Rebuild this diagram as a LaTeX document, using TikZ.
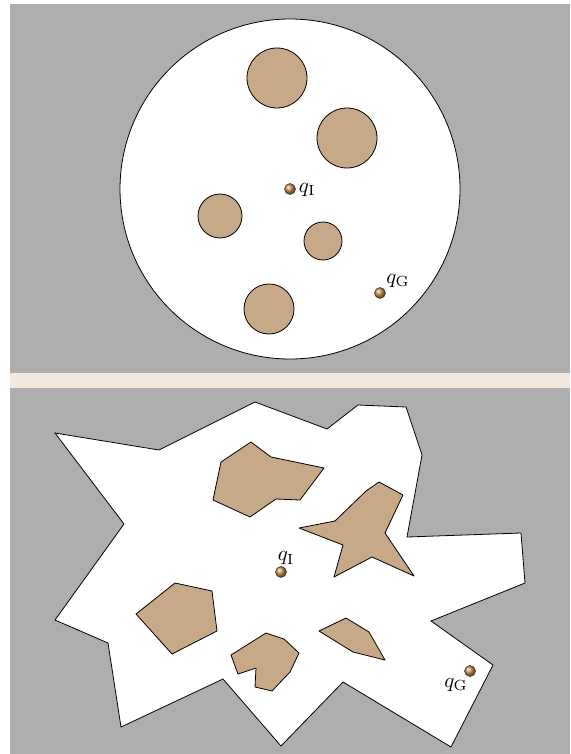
\documentclass[tikz,border=0pt]{standalone}
\usepackage{graphicx}
\usetikzlibrary{shapes.geometric}
\definecolor{bggray}{HTML}{AEAEAE}
\definecolor{band}{HTML}{F3E9DF}
\definecolor{obst}{HTML}{C8A987}
\definecolor{ballc}{RGB}{200,145,75}
\newcommand{\biglbl}[1]{\scalebox{2.1}{$#1$}}
\tikzset{
  obstacle/.style={fill=obst,draw=black,line width=0.8pt,line join=round},
  freespace/.style={fill=white,draw=black,line width=0.8pt,line join=miter},
  ballnode/.style={circle,inner sep=0pt,minimum size=11pt,draw=black!80,line width=0.5pt,ball color=ballc},
  lbl/.style={inner sep=1pt}
}
\begin{document}
\begin{tikzpicture}[x=1pt,y=-1pt]
\useasboundingbox (0,0) rectangle (570,754);
\fill[white] (0,0) rectangle (570,754);
% panels
\fill[bggray] (10,4) rectangle (570,373);
\fill[band] (10,373) rectangle (570,388);
\fill[bggray] (10,388) rectangle (570,754);
% top: disc world
\draw[freespace] (290,189) circle (170);
\draw[obstacle] (277,78) circle (30);
\draw[obstacle] (347,138) circle (30);
\draw[obstacle] (220,216) circle (22);
\draw[obstacle] (323,241) circle (19);
\draw[obstacle] (269,309) circle (25);
\node[ballnode] (qI1) at (290,189) {};
\node[lbl,anchor=west] (lI1) at ([xshift=2pt,yshift=-1pt]qI1.east) {\biglbl{q_{\mathrm{I}}}};
\node[ballnode] (qG1) at (380,293) {};
\node[lbl,anchor=south west] (lG1) at ([xshift=1pt,yshift=0pt]qG1.north east) {\biglbl{q_{\mathrm{G}}}};
% bottom: polygonal world
\draw[freespace] (55,433) -- (159,450) -- (255,402) -- (327,429) -- (358,405) -- (406,407)
  -- (422,455) -- (407,537) -- (521,533) -- (525,583) -- (431,621) -- (493,665)
  -- (451,747) -- (343,682) -- (281,746) -- (223,679) -- (121,727) -- (108,643)
  -- (55,620) -- (124,524) -- cycle;
\draw[obstacle] (251,442) -- (271,457) -- (324,468) -- (300,500) -- (276,499) -- (250,517) -- (213,500) -- (221,462) -- cycle;
\draw[obstacle] (379,482) -- (403,495) -- (385,533) -- (414,576) -- (372,557) -- (334,577) -- (343,545) -- (299,528) -- (335,521) -- (366,491) -- cycle;
\draw[obstacle] (175,583) -- (212,591) -- (217,631) -- (172,654) -- (136,614) -- cycle;
\draw[obstacle] (266,633) -- (284,639) -- (299,653) -- (290,672) -- (272,691) -- (255,687) -- (256,668) -- (238,674) -- (231,655) -- cycle;
\draw[obstacle] (346,618) -- (369,632) -- (385,660) -- (353,652) -- (319,631) -- cycle;
\node[ballnode] (qI2) at (281,572) {};
\node[lbl,anchor=south] (lI2) at ([xshift=5pt,yshift=0pt]qI2.north) {\biglbl{q_{\mathrm{I}}}};
\node[ballnode] (qG2) at (470,671) {};
\node[lbl,anchor=north east] (lG2) at ([xshift=3pt,yshift=-2pt]qG2.south west) {\biglbl{q_{\mathrm{G}}}};
\end{tikzpicture}
\end{document}
